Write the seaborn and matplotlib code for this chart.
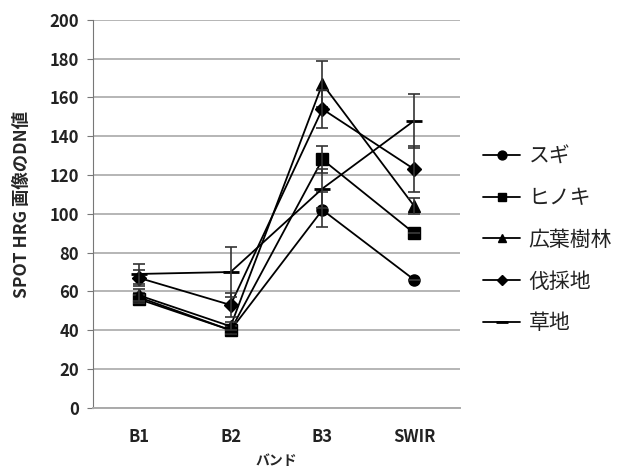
import numpy as np
import pandas as pd
import matplotlib
matplotlib.use("Agg")
import matplotlib.pyplot as plt
import seaborn as sns

bands = ["B1", "B2", "B3", "SWIR"]
classes = ["スギ", "ヒノキ", "広葉樹林", "伐採地", "草地"]

sugi = [57, 40, 102, 66]
hinoki = [56, 40, 128, 90]
kouyou = [58, 42, 167, 104]
bassai = [67, 53, 154, 123]
kusachi = [69, 70, 113, 148]

sugi_err = [2, 2, 9, 0]
hinoki_err = [2, 2, 7, 0]
kouyou_err = [3, 2, 12, 4]
bassai_err = [4, 6, 10, 12]
kusachi_err = [5, 13, 10, 14]

values = [sugi, hinoki, kouyou, bassai, kusachi]
errors = [sugi_err, hinoki_err, kouyou_err, bassai_err, kusachi_err]
markers = ["o", "s", "^", "D", "_"]
msizes = [8, 8, 8, 7, 11]

sns.set_style("white")
plt.rcParams["font.family"] = ["Noto Sans CJK JP", "DejaVu Sans"]

fig = plt.figure(figsize=(6.32, 4.72), dpi=100)
ax = fig.add_axes([0.147, 0.136, 0.581, 0.822])

x = np.arange(len(bands))
for name, vals, err, m, ms in zip(classes, values, errors, markers, msizes):
    sns.lineplot(x=x, y=vals, color="black", marker=m, markersize=ms,
                 markeredgewidth=2 if m == "_" else 1, markeredgecolor="black",
                 linewidth=1.3, ax=ax, label=name, legend=False)
    ax.errorbar(x, vals, yerr=err, fmt="none", ecolor="#333333",
                elinewidth=1.2, capsize=4, capthick=1.2)

ax.set_ylim(0, 200)
ax.set_xlim(-0.5, 3.5)
ax.set_xticks(x)
ax.set_xticklabels(bands)
ax.set_yticks(range(0, 201, 20))
ax.yaxis.grid(True, color="#b0b0b0", linewidth=1.3)
ax.set_axisbelow(True)
for s in ["top", "right"]:
    ax.spines[s].set_visible(False)
ax.spines["left"].set_color("#777777")
ax.spines["bottom"].set_color("#aaaaaa")
ax.spines["bottom"].set_linewidth(1.4)
ax.tick_params(axis="y", left=True, length=4, color="#777777", labelsize=12, pad=6,
               labelcolor="#222222")
ax.tick_params(axis="x", bottom=False, labelsize=12, pad=11, labelcolor="#222222")
for lab in ax.get_xticklabels() + ax.get_yticklabels():
    lab.set_fontweight("bold")
ax.set_xlabel("バンド", fontsize=10, fontweight="bold", labelpad=6)
ax.set_ylabel("SPOT HRG 画像のDN値", fontsize=12.5, fontweight="bold")
ax.yaxis.set_label_coords(-0.168, 0.525)

handles = [
    plt.Line2D([], [], color="black", marker=m, markersize=ms * 0.8, linewidth=1.3,
               markeredgewidth=2 if m == "_" else 1)
    for m, ms in zip(markers, msizes)
]
leg = fig.legend(handles, classes, loc="center left", bbox_to_anchor=(0.764, 0.492),
                 frameon=False, fontsize=15, handlelength=1.8, labelspacing=0.95,
                 handletextpad=0.4, borderpad=0, borderaxespad=0)
for t in leg.get_texts():
    t.set_color("#222222")

fig.savefig("out.png", dpi=100)
